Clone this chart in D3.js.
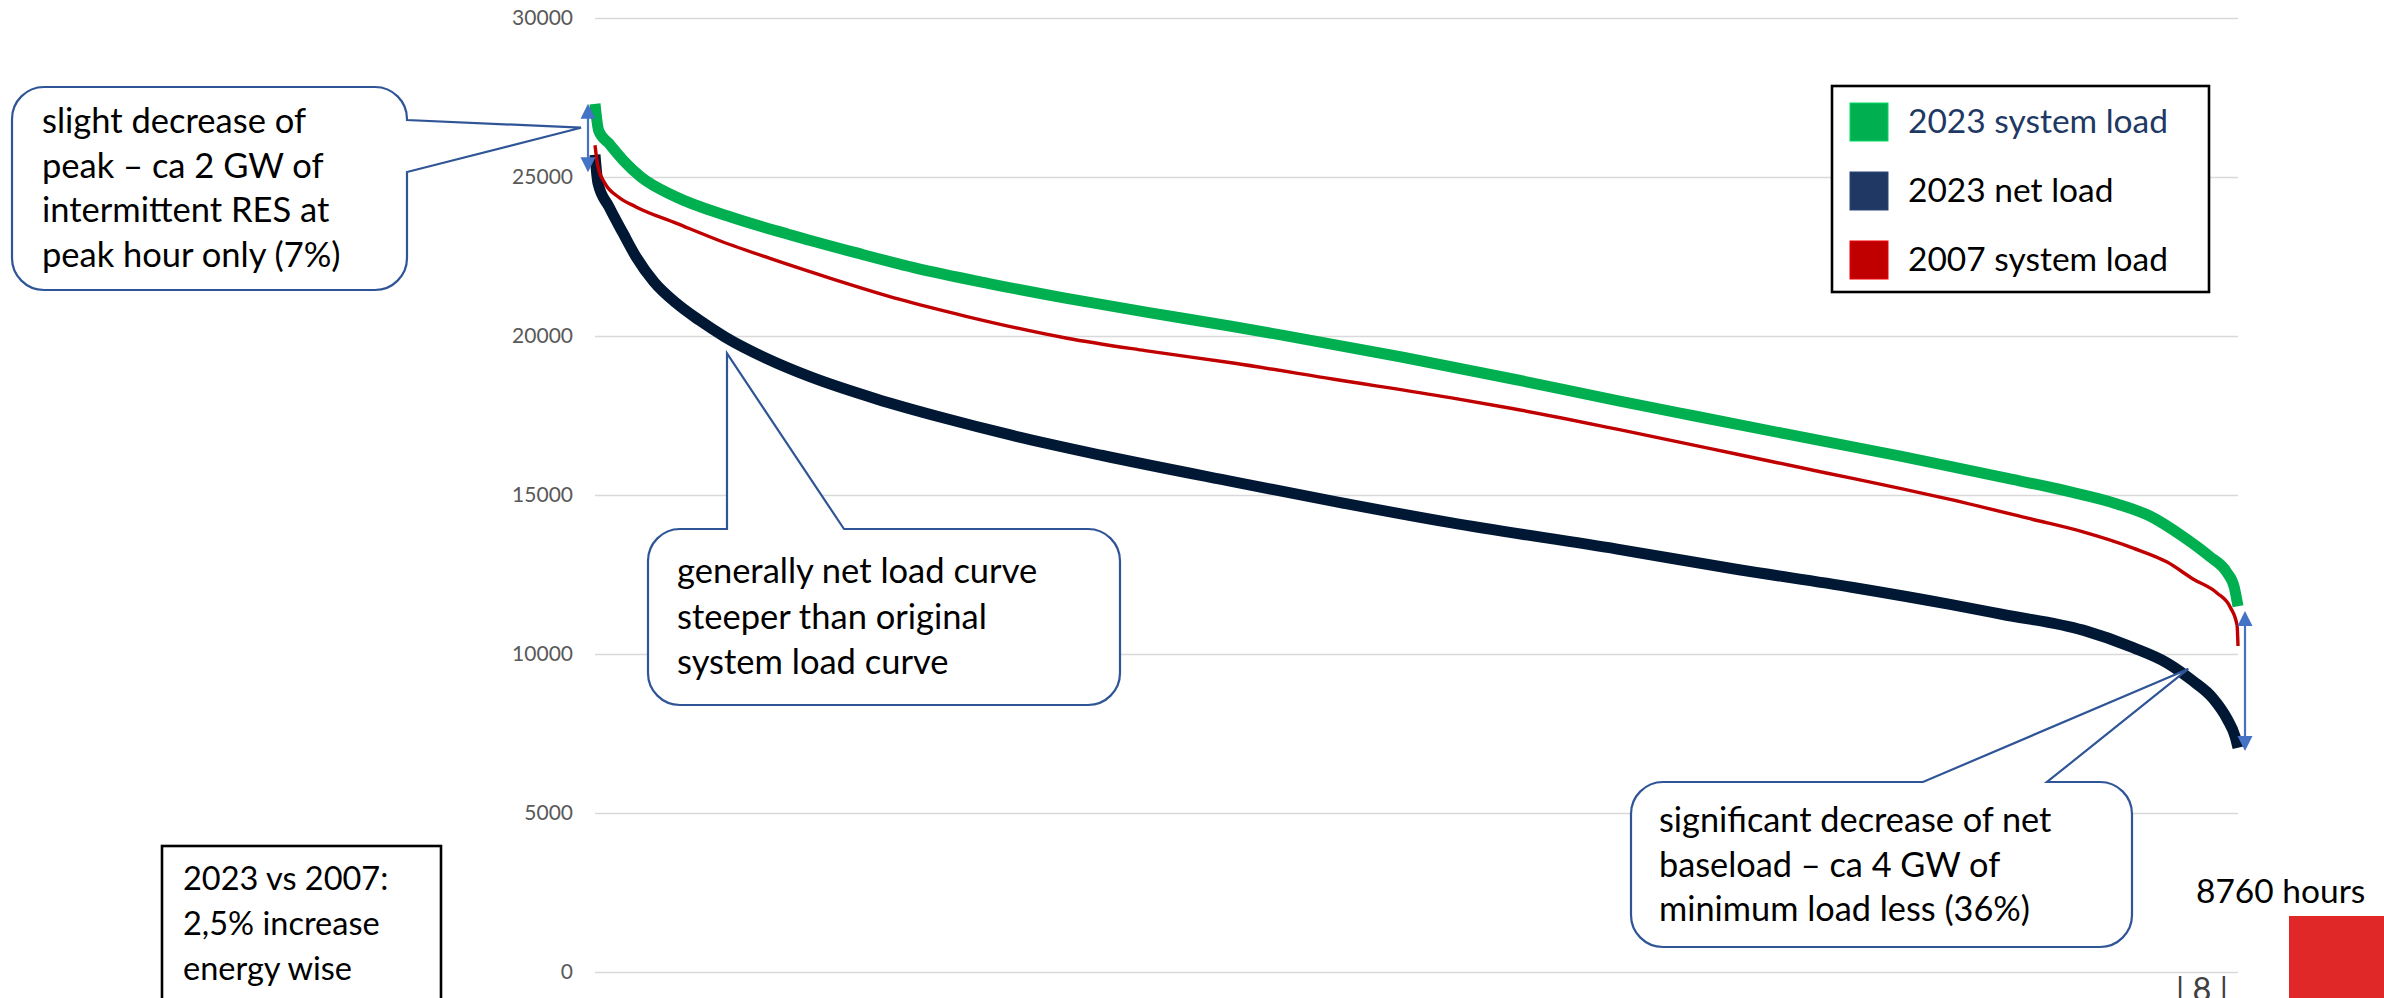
<!DOCTYPE html>
<html>
<head>
<meta charset="utf-8">
<script src="https://cdn.jsdelivr.net/npm/d3@7"></script>
<style>
  html, body { margin: 0; padding: 0; background: #ffffff; overflow: hidden; }
  svg { display: block; }
</style>
</head>
<body>
<svg id="chart" width="2384" height="998"></svg>
<script>
// ---- Load duration curves (hours of the year sorted by load, MW) ----
const seriesNames = ["2023 system load", "2023 net load", "2007 system load"];

const sysHours2023 = [0, 20, 75, 150, 245, 430, 720, 1030, 1390, 1700, 2100, 2500, 2930, 3400, 3700, 4300, 4900, 5450, 5850, 6350, 6960, 7225, 7500, 7850, 8115, 8290, 8470, 8610, 8700, 8740, 8760];
const sysLoad2023  = [27300, 26450, 26050, 25530, 25000, 24380, 23750, 23200, 22620, 22150, 21650, 21200, 20760, 20300, 19990, 19340, 18640, 17970, 17500, 16920, 16220, 15900, 15560, 15120, 14720, 14340, 13680, 13060, 12570, 12100, 11500];

const netHours2023 = [0, 16, 75, 149, 219, 315, 432, 555, 693, 912, 1146, 1500, 1860, 2220, 2700, 3400, 3940, 4560, 5450, 6100, 6700, 7225, 7500, 7934, 8201, 8382, 8520, 8626, 8702, 8745, 8760];
const netLoad2023  = [25700, 24800, 24060, 23240, 22490, 21700, 21040, 20500, 19970, 19300, 18720, 18020, 17420, 16880, 16250, 15420, 14800, 14130, 13300, 12650, 12100, 11560, 11250, 10750, 10200, 9720, 9150, 8610, 7960, 7400, 7050];

const sysHours2007 = [0, 16, 53, 123, 219, 432, 672, 933, 1264, 1626, 1978, 2517, 2933, 3402, 3940, 4559, 4890, 5449, 6084, 6558, 6958, 7225, 7667, 7934, 8201, 8382, 8520, 8648, 8718, 8755, 8760];
const sysLoad2007  = [26000, 25320, 24800, 24380, 24060, 23550, 22980, 22440, 21800, 21150, 20620, 19930, 19540, 19150, 18640, 18060, 17720, 17070, 16290, 15700, 15210, 14860, 14230, 13840, 13330, 12890, 12360, 11920, 11480, 10910, 10250];

const yTicks = [0, 5000, 10000, 15000, 20000, 25000, 30000];
const hoursInYear = 8760;

// Load span marked by the double arrows (MW)
const peakSpan = [27300, 25150];
const baseSpan = [11350, 6950];

// Annotation texts
const peakNote  = ["slight decrease of", "peak \u2013 ca 2 GW of", "intermittent RES at", "peak hour only (7%)"];
const slopeNote = ["generally net load curve", "steeper than original", "system load curve"];
const baseNote  = ["significant decrease of net", "baseload \u2013 ca 4 GW of", "minimum load less (36%)"];
const energyNote = ["2023 vs 2007:", "2,5% increase", "energy wise"];
const hoursLabel = "8760 hours";
const pageLabel = "| 8 |";

// ---- Styles ----
const colors = { sys2023: "#00B050", net2023: "#011834", sys2007: "#C00000" };
const legendColors = ["#00B050", "#203864", "#C00000"];
const legendTextColors = ["#203864", "#000000", "#000000"];
const textFont = "Lato, 'Open Sans', sans-serif";
const calloutStroke = "#2F5597";
const arrowBlue = "#4472C4";

const svg = d3.select("#chart");
svg.append("rect").attr("width", 2384).attr("height", 998).attr("fill", "#ffffff");

const x = d3.scaleLinear().domain([0, hoursInYear]).range([595, 2238]);
const y = d3.scaleLinear().domain([0, 30000]).range([972, 18]);

// ---- Gridlines and value axis ----
const yAxis = d3.axisLeft(y).tickValues(yTicks).tickSize(-(x.range()[1] - x.range()[0])).tickPadding(22).tickFormat(d3.format("d"));
const gAxis = svg.append("g").attr("transform", `translate(${x.range()[0]},0)`).call(yAxis);
gAxis.select(".domain").remove();
gAxis.selectAll(".tick line").attr("stroke", "#D9D9D9").attr("stroke-width", 1.6);
gAxis.selectAll(".tick text")
  .attr("fill", "#595959")
  .style("font-family", textFont)
  .style("font-size", "21px");

// ---- Curves ----
const line = d3.line().x(d => x(d[0])).y(d => y(d[1])).curve(d3.curveMonotoneX);
const zip = (h, v) => h.map((hh, i) => [hh, v[i]]);

svg.append("path").datum(zip(sysHours2023, sysLoad2023))
  .attr("d", line).attr("fill", "none").attr("stroke", colors.sys2023)
  .attr("stroke-width", 11).attr("stroke-linejoin", "round");
svg.append("path").datum(zip(netHours2023, netLoad2023))
  .attr("d", line).attr("fill", "none").attr("stroke", colors.net2023)
  .attr("stroke-width", 11).attr("stroke-linejoin", "round");
svg.append("path").datum(zip(sysHours2007, sysLoad2007))
  .attr("d", line).attr("fill", "none").attr("stroke", colors.sys2007)
  .attr("stroke-width", 3.4).attr("stroke-linejoin", "round");

// ---- Double-headed arrows ----
function doubleArrow(px, v0, v1) {
  const yTop = y(v0), yBot = y(v1), head = 15, half = 7.5;
  const g = svg.append("g");
  g.append("line").attr("x1", px).attr("x2", px)
    .attr("y1", yTop + head - 2).attr("y2", yBot - head + 2)
    .attr("stroke", arrowBlue).attr("stroke-width", 2.2);
  g.append("path").attr("d", `M${px},${yTop} L${px + half},${yTop + head} L${px - half},${yTop + head} Z`).attr("fill", arrowBlue);
  g.append("path").attr("d", `M${px},${yBot} L${px + half},${yBot - head} L${px - half},${yBot - head} Z`).attr("fill", arrowBlue);
}
doubleArrow(x(0) - 7, peakSpan[0], peakSpan[1]);
doubleArrow(x(hoursInYear) + 7, baseSpan[0], baseSpan[1]);

// ---- Callouts ----
function calloutPath(b, r, side, p) {
  const { x0, y0, x1, y1 } = b;
  let d = `M${x0 + r},${y0}`;
  if (side === "top") d += ` L${p.a},${y0} L${p.tx},${p.ty} L${p.b},${y0}`;
  d += ` L${x1 - r},${y0} A${r},${r} 0 0 1 ${x1},${y0 + r}`;
  if (side === "right") d += ` L${x1},${p.a} L${p.tx},${p.ty} L${x1},${p.b}`;
  d += ` L${x1},${y1 - r} A${r},${r} 0 0 1 ${x1 - r},${y1}`;
  d += ` L${x0 + r},${y1} A${r},${r} 0 0 1 ${x0},${y1 - r}`;
  d += ` L${x0},${y0 + r} A${r},${r} 0 0 1 ${x0 + r},${y0} Z`;
  return d;
}
function textBlock(lines, tx, ty, lh, size, fill) {
  const t = svg.append("text").attr("font-family", textFont).attr("font-size", size).attr("fill", fill || "#000");
  lines.forEach((s, i) => t.append("tspan").attr("x", tx).attr("y", ty + i * lh).text(s));
  return t;
}

svg.append("path")
  .attr("d", calloutPath({ x0: 12, y0: 87, x1: 407, y1: 290 }, 32, "right",
    { a: 120, b: 172, tx: x(0) - 14, ty: y(26550) }))
  .attr("fill", "#fff").attr("stroke", calloutStroke).attr("stroke-width", 2.2);
textBlock(peakNote, 42, 133, 44.7, 34.5);

svg.append("path")
  .attr("d", calloutPath({ x0: 648, y0: 529, x1: 1120, y1: 705 }, 32, "top",
    { a: 727, b: 844, tx: 727, ty: y(19450) }))
  .attr("fill", "#fff").attr("stroke", calloutStroke).attr("stroke-width", 2.2);
textBlock(slopeNote, 677, 583, 45.5, 34.5);

svg.append("path")
  .attr("d", calloutPath({ x0: 1631, y0: 782, x1: 2132, y1: 947 }, 32, "top",
    { a: 1923, b: 2047, tx: x(8495), ty: y(9530) }))
  .attr("fill", "#fff").attr("stroke", calloutStroke).attr("stroke-width", 2.2);
textBlock(baseNote, 1659, 832, 44.5, 34.3);

// ---- Energy comparison box ----
svg.append("rect").attr("x", 162).attr("y", 846).attr("width", 279).attr("height", 170)
  .attr("fill", "#fff").attr("stroke", "#000").attr("stroke-width", 2.6);
textBlock(energyNote, 183, 890, 45, 32.5);

// ---- Legend ----
const legend = svg.append("g");
legend.append("rect").attr("x", 1832).attr("y", 86).attr("width", 377).attr("height", 206)
  .attr("fill", "#fff").attr("stroke", "#000").attr("stroke-width", 2.6);
seriesNames.forEach((name, i) => {
  legend.append("rect").attr("x", 1850).attr("y", 103 + i * 69).attr("width", 38).attr("height", 38)
    .attr("fill", legendColors[i]).attr("stroke", d3.color(legendColors[i]).brighter(0.6)).attr("stroke-width", 1);
  legend.append("text").attr("x", 1908).attr("y", 133 + i * 69)
    .attr("font-family", textFont).attr("font-size", 33.5).attr("fill", legendTextColors[i]).text(name);
});

// ---- Footer elements ----
svg.append("text").attr("x", 2196).attr("y", 903).attr("font-family", textFont)
  .attr("font-size", 33.5).attr("fill", "#000").text(hoursLabel);
svg.append("rect").attr("x", 2289).attr("y", 916).attr("width", 95).attr("height", 82).attr("fill", "#E02828");
svg.append("text").attr("x", 2176).attr("y", 1001).attr("font-family", textFont)
  .attr("font-size", 32.5).attr("fill", "#404040").text(pageLabel);
</script>
</body>
</html>
